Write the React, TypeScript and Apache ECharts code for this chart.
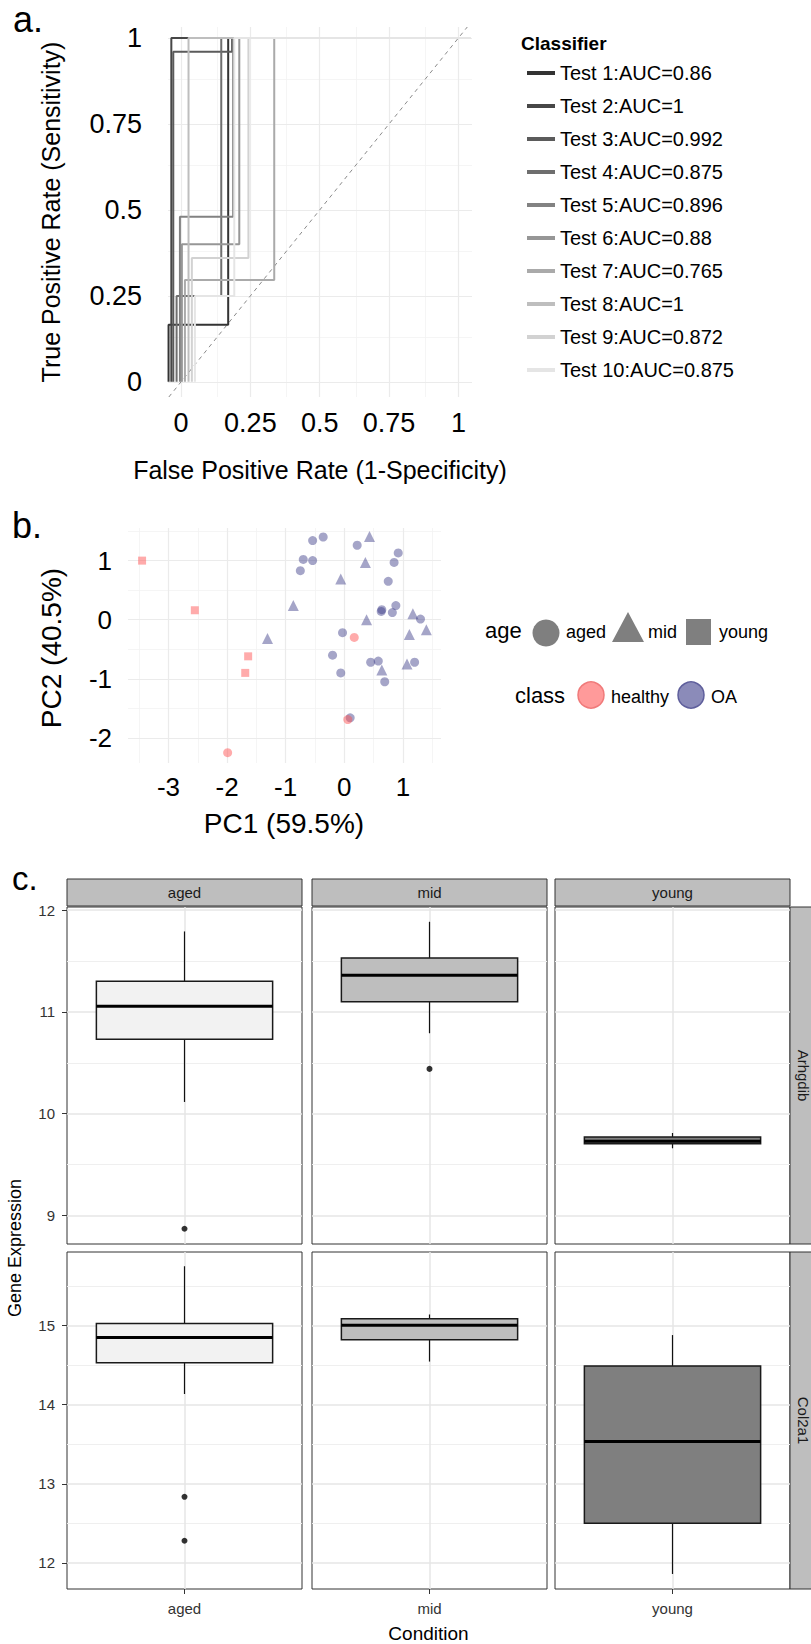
import React, { useEffect, useRef } from "react";
import * as echarts from "echarts";

const FONT = "'Liberation Sans', Arial, Helvetica, sans-serif";

// ---------- Panel a: ROC curves ----------
const testNames = [
  "Test 1:AUC=0.86", "Test 2:AUC=1", "Test 3:AUC=0.992", "Test 4:AUC=0.875", "Test 5:AUC=0.896",
  "Test 6:AUC=0.88", "Test 7:AUC=0.765", "Test 8:AUC=1", "Test 9:AUC=0.872", "Test 10:AUC=0.875",
];
const roc1 = [[-0.045, 0], [-0.045, 0.166], [0.17, 0.166], [0.17, 1], [1.0, 1]];
const roc2 = [[-0.035, 0], [-0.035, 1], [1.005, 1]];
const roc3 = [[-0.028, 0], [-0.028, 0.96], [0.184, 0.96], [0.184, 1], [1.01, 1]];
const roc4 = [[-0.016, 0], [-0.016, 0.25], [0.145, 0.25], [0.145, 1], [1.015, 1]];
const roc5 = [[-0.004, 0], [-0.004, 0.48], [0.188, 0.48], [0.188, 1], [1.02, 1]];
const roc6 = [[0.003, 0], [0.003, 0.4], [0.21, 0.4], [0.21, 1], [1.025, 1]];
const roc7 = [[0.014, 0], [0.014, 0.296], [0.336, 0.296], [0.336, 1], [1.03, 1]];
const roc8 = [[0.027, 0], [0.027, 1], [1.035, 1]];
const roc9 = [[0.039, 0], [0.039, 0.36], [0.243, 0.36], [0.243, 1], [1.04, 1]];
const roc10 = [[0.05, 0], [0.05, 0.25], [0.192, 0.25], [0.192, 1], [1.045, 1]];
const rocCurves = [roc1, roc2, roc3, roc4, roc5, roc6, roc7, roc8, roc9, roc10];
const rocGrays = ["#333333", "#474747", "#5b5b5b", "#6e6e6e", "#828282", "#969696", "#aaaaaa", "#bebebe", "#d2d2d2", "#e5e5e5"];
const diagonal = [-0.044, 1.032];
const rocTicks = [0, 0.25, 0.5, 0.75, 1];
const rocMinor = [0.125, 0.375, 0.625, 0.875];

// ---------- Panel b: PCA ----------
const pcaOAAged = [
  [-0.54, 1.34], [-0.36, 1.4], [-0.7, 1.02], [-0.54, 1.0], [-0.75, 0.83], [0.22, 1.26], [0.92, 1.13],
  [0.85, 0.97], [0.75, 0.65], [0.64, 0.17], [0.63, 0.14], [0.88, 0.24], [0.82, 0.12], [1.3, 0.01],
  [-0.03, -0.22], [-0.2, -0.6], [-0.06, -0.9], [0.45, -0.72], [0.58, -0.7], [0.69, -1.05], [1.2, -0.72],
  [0.1, -1.66],
];
const pcaOAMid = [
  [0.43, 1.41], [0.36, 0.97], [-0.06, 0.69], [-0.87, 0.24], [-1.31, -0.32], [0.38, 0.0], [1.17, 0.1],
  [1.11, -0.25], [1.4, -0.17], [0.64, -0.85], [1.07, -0.75],
];
const pcaHealthyYoung = [[-3.45, 1.0], [-2.55, 0.16], [-1.64, -0.62], [-1.69, -0.9]];
const pcaHealthyAged = [[-1.99, -2.25], [0.17, -0.3], [0.06, -1.69]];
const pcaXTicks = [-3, -2, -1, 0, 1];
const pcaXMinor = [-3.5, -2.5, -1.5, -0.5, 0.5, 1.5];
const pcaYTicks = [-2, -1, 0, 1];
const pcaYMinor = [-1.5, -0.5, 0.5, 1.5];

// ---------- Panel c: boxplots ----------
const conditions = ["aged", "mid", "young"];
const genes = ["Arhgdib", "Col2a1"];
// [lower whisker, Q1, median, Q3, upper whisker]
const arhgdibBoxes = [
  [10.115, 10.73, 11.055, 11.3, 11.79],
  [10.79, 11.1, 11.36, 11.53, 11.885],
  [9.66, 9.705, 9.73, 9.77, 9.81],
];
const col2a1Boxes = [
  [14.135, 14.53, 14.85, 15.025, 15.75],
  [14.545, 14.82, 15.005, 15.085, 15.14],
  [11.86, 12.5, 13.535, 14.49, 14.88],
];
const arhgdibOutliers = [[8.87], [10.44], []];
const col2a1Outliers = [[12.835, 12.28], [], []];
const arhgdibTicks = [9, 10, 11, 12];
const arhgdibMinor = [9.5, 10.5, 11.5];
const col2a1Ticks = [12, 13, 14, 15];
const col2a1Minor = [12.5, 13.5, 14.5, 15.5];
const boxFills = ["#f2f2f2", "#bebebe", "#7f7f7f"];

function gridLineSeries(xi: number, xMajor: any[], xMinor: any[], yMajor: number[], yMinor: number[], majorW: number, minorW: number, majorC: string, minorC: string) {
  const d: any[] = [];
  xMinor.forEach((v) => d.push({ xAxis: v, lineStyle: { color: minorC, width: minorW, type: "solid" } }));
  yMinor.forEach((v) => d.push({ yAxis: v, lineStyle: { color: minorC, width: minorW, type: "solid" } }));
  xMajor.forEach((v) => d.push({ xAxis: v, lineStyle: { color: majorC, width: majorW, type: "solid" } }));
  yMajor.forEach((v) => d.push({ yAxis: v, lineStyle: { color: majorC, width: majorW, type: "solid" } }));
  return {
    type: "line",
    xAxisIndex: xi,
    yAxisIndex: xi,
    data: [],
    z: 1,
    silent: true,
    markLine: {
      z: 1,
      silent: true,
      symbol: ["none", "none"],
      label: { show: false },
      animation: false,
      data: d,
    },
  };
}

function txt(text: string, x: number, y: number, size: number, opts: any = {}) {
  return {
    type: "text",
    x,
    y,
    rotation: opts.rotation || 0,
    style: {
      text,
      fontSize: size,
      fontFamily: FONT,
      fontWeight: opts.bold ? "bold" : "normal",
      fill: opts.color || "#000",
      align: opts.align || "center",
      textAlign: opts.align || "center",
      verticalAlign: "middle",
      textVerticalAlign: "middle",
    },
  };
}

function buildOption() {
  const grids: any[] = [
    { left: 168, top: 27, width: 304, height: 370, outerBoundsMode: "none" },
    { left: 128, top: 528, width: 313, height: 235, outerBoundsMode: "none" },
  ];
  const xAxes: any[] = [
    {
      type: "value", gridIndex: 0, min: -0.047, max: 1.049, offset: 3,
      axisLine: { show: false },
      axisTick: { show: true, customValues: rocTicks, length: 4, lineStyle: { color: "#444", width: 1 } },
      axisLabel: { customValues: rocTicks, fontSize: 27, color: "#000", margin: 9, fontFamily: FONT },
      splitLine: { show: false },
    },
    {
      type: "value", gridIndex: 1, min: -3.69, max: 1.65,
      axisLine: { show: false }, axisTick: { show: false },
      axisLabel: { customValues: pcaXTicks, fontSize: 26, color: "#000", margin: 11, fontFamily: FONT },
      splitLine: { show: false },
    },
  ];
  const yAxes: any[] = [
    {
      type: "value", gridIndex: 0, min: -0.044, max: 1.032, offset: 14,
      axisLine: { show: false },
      axisTick: { show: true, customValues: rocTicks, length: 4, lineStyle: { color: "#444", width: 1 } },
      axisLabel: { customValues: rocTicks, fontSize: 27, color: "#000", margin: 12, fontFamily: FONT },
      splitLine: { show: false },
    },
    {
      type: "value", gridIndex: 1, min: -2.425, max: 1.552,
      axisLine: { show: false }, axisTick: { show: false },
      axisLabel: { customValues: pcaYTicks, fontSize: 26, color: "#000", margin: 16, fontFamily: FONT },
      splitLine: { show: false },
    },
  ];

  const series: any[] = [];
  series.push(gridLineSeries(0, rocTicks, rocMinor, rocTicks, rocMinor, 1.2, 0.8, "#ebebeb", "#f3f3f3"));
  series.push(gridLineSeries(1, pcaXTicks, pcaXMinor, pcaYTicks, pcaYMinor, 1.2, 0.8, "#ebebeb", "#f3f3f3"));

  series.push({
    type: "line", xAxisIndex: 0, yAxisIndex: 0, silent: true, symbol: "none", z: 2,
    data: [[diagonal[0], diagonal[0]], [diagonal[1], diagonal[1]]],
    lineStyle: { color: "#8a8a8a", width: 1, type: [4, 4] },
  });
  rocCurves.forEach((c, i) => {
    series.push({
      type: "line", name: testNames[i], xAxisIndex: 0, yAxisIndex: 0, symbol: "none", z: 3,
      data: c, color: rocGrays[i],
      lineStyle: { color: rocGrays[i], width: 2 },
    });
  });

  const oaColor = "rgba(50,50,130,0.55)";
  const hColor = "rgba(255,80,80,0.6)";
  series.push({ type: "scatter", xAxisIndex: 1, yAxisIndex: 1, symbol: "circle", symbolSize: 9, data: pcaOAAged, itemStyle: { color: oaColor }, z: 3 });
  series.push({ type: "scatter", xAxisIndex: 1, yAxisIndex: 1, symbol: "triangle", symbolSize: 11, data: pcaOAMid, itemStyle: { color: oaColor }, z: 3 });
  series.push({ type: "scatter", xAxisIndex: 1, yAxisIndex: 1, symbol: "rect", symbolSize: 8, data: pcaHealthyYoung, itemStyle: { color: hColor }, z: 3 });
  series.push({ type: "scatter", xAxisIndex: 1, yAxisIndex: 1, symbol: "circle", symbolSize: 9, data: pcaHealthyAged, itemStyle: { color: hColor }, z: 3 });

  const colLefts = [67, 312, 555];
  const rowTops = [907, 1252];
  const colW = 235;
  const rowH = 337;
  const rowMin = [8.72, 11.67];
  const rowMax = [12.03, 15.93];
  const rowTicks = [arhgdibTicks, col2a1Ticks];
  const rowMinor = [arhgdibMinor, col2a1Minor];
  const rowBoxes = [arhgdibBoxes, col2a1Boxes];
  const rowOut = [arhgdibOutliers, col2a1Outliers];

  for (let r = 0; r < 2; r++) {
    for (let c = 0; c < 3; c++) {
      const idx = grids.length;
      grids.push({
        left: colLefts[c], top: rowTops[r], width: colW, height: rowH, show: true,
        borderColor: "#333", borderWidth: 1, backgroundColor: "transparent", outerBoundsMode: "none",
      });
      xAxes.push({
        type: "category", gridIndex: idx, data: [conditions[c]], boundaryGap: true,
        axisLine: { show: false },
        axisTick: { show: r === 1, alignWithLabel: true, length: 5, lineStyle: { color: "#333" } },
        axisLabel: { show: r === 1, fontSize: 15, color: "#333", margin: 12, fontFamily: FONT },
        splitLine: { show: false },
      });
      yAxes.push({
        type: "value", gridIndex: idx, min: rowMin[r], max: rowMax[r],
        axisLine: { show: false },
        axisTick: { show: c === 0, customValues: rowTicks[r], length: 5, lineStyle: { color: "#333" } },
        axisLabel: { show: c === 0, customValues: rowTicks[r], fontSize: 15, color: "#333", margin: 12, fontFamily: FONT },
        splitLine: { show: false },
      });
      series.push(gridLineSeries(idx, [0], [], rowTicks[r], rowMinor[r], 1.5, 1, "#e6e6e6", "#efefef"));
      const b = rowBoxes[r][c];
      const fill = boxFills[c];
      series.push({
        type: "custom", xAxisIndex: idx, yAxisIndex: idx, z: 3,
        data: [[0, b[0], b[1], b[2], b[3], b[4]]],
        encode: { x: 0, y: [1, 2, 3, 4, 5] },
        renderItem: (params: any, api: any) => {
          const x = api.value(0);
          const pMin = api.coord([x, api.value(1)]);
          const pQ1 = api.coord([x, api.value(2)]);
          const pMed = api.coord([x, api.value(3)]);
          const pQ3 = api.coord([x, api.value(4)]);
          const pMax = api.coord([x, api.value(5)]);
          const w = api.size([1, 0])[0] * 0.75;
          const cx = pMed[0];
          return {
            type: "group",
            children: [
              { type: "line", shape: { x1: cx, y1: pMax[1], x2: cx, y2: pQ3[1] }, style: { stroke: "#111", lineWidth: 1.2 } },
              { type: "line", shape: { x1: cx, y1: pQ1[1], x2: cx, y2: pMin[1] }, style: { stroke: "#111", lineWidth: 1.2 } },
              { type: "rect", shape: { x: cx - w / 2, y: pQ3[1], width: w, height: pQ1[1] - pQ3[1] }, style: { fill, stroke: "#1a1a1a", lineWidth: 1.5 } },
              { type: "line", shape: { x1: cx - w / 2, y1: pMed[1], x2: cx + w / 2, y2: pMed[1] }, style: { stroke: "#000", lineWidth: 3 } },
            ],
          };
        },
      });
      const outs = rowOut[r][c];
      if (outs.length) {
        series.push({
          type: "scatter", xAxisIndex: idx, yAxisIndex: idx, symbol: "circle", symbolSize: 6, z: 4,
          data: outs.map((v) => [0, v]), itemStyle: { color: "#000" },
        });
      }
    }
  }

  const graphic: any[] = [
    txt("a.", 13, 19.5, 36, { align: "left" }),
    txt("b.", 12, 525.5, 36, { align: "left" }),
    txt("c.", 12, 878.5, 33, { align: "left" }),
    txt("True Positive Rate (Sensitivity)", 51, 212, 25, { rotation: Math.PI / 2 }),
    txt("False Positive Rate (1-Specificity)", 320, 469.5, 25),
    txt("Classifier", 521, 43, 19, { align: "left", bold: true }),
    txt("PC2 (40.5%)", 51, 648, 28, { rotation: Math.PI / 2 }),
    txt("PC1 (59.5%)", 284, 823.5, 28),
    // panel b legends
    txt("age", 485, 630.7, 22, { align: "left" }),
    { type: "circle", shape: { cx: 546, cy: 633, r: 13.5 }, style: { fill: "#7f7f7f" } },
    txt("aged", 566, 631.7, 18, { align: "left" }),
    { type: "polygon", shape: { points: [[612, 642], [644, 642], [628, 612]] }, style: { fill: "#7f7f7f" } },
    txt("mid", 648, 631.7, 18, { align: "left" }),
    { type: "rect", shape: { x: 686, y: 619, width: 25, height: 26 }, style: { fill: "#7f7f7f" } },
    txt("young", 719, 631.7, 18, { align: "left" }),
    txt("class", 515, 695.6, 22, { align: "left" }),
    { type: "circle", shape: { cx: 591, cy: 695, r: 13 }, style: { fill: "#ff9a9a", stroke: "#f07a7a", lineWidth: 1.5 } },
    txt("healthy", 611, 696.6, 18, { align: "left" }),
    { type: "circle", shape: { cx: 691, cy: 695, r: 13 }, style: { fill: "#8b8bb9", stroke: "#5f5f9c", lineWidth: 1.5 } },
    txt("OA", 711, 696.6, 18, { align: "left" }),
    // panel c titles
    txt("Gene Expression", 15, 1248, 18, { rotation: Math.PI / 2 }),
    txt("Condition", 428.5, 1633, 19),
  ];
  // facet strips
  [67, 312, 555].forEach((x, i) => {
    graphic.push({ type: "rect", shape: { x, y: 879, width: 235, height: 27 }, style: { fill: "#bebebe", stroke: "#333", lineWidth: 1 } });
    graphic.push(txt(conditions[i], x + 117.5, 892.5, 15, { color: "#1a1a1a" }));
  });
  [907, 1252].forEach((y, i) => {
    graphic.push({ type: "rect", shape: { x: 790, y, width: 26, height: 337 }, style: { fill: "#bebebe", stroke: "#333", lineWidth: 1 } });
    graphic.push(txt(genes[i], 803, y + 168.5, 15, { rotation: -Math.PI / 2, color: "#1a1a1a" }));
  });

  return {
    animation: false,
    textStyle: { fontFamily: FONT },
    grid: grids,
    xAxis: xAxes,
    yAxis: yAxes,
    legend: {
      data: testNames,
      orient: "vertical",
      left: 527,
      top: 63,
      padding: 0,
      itemWidth: 28,
      itemHeight: 4,
      icon: "rect",
      itemGap: 13,
      selectedMode: false,
      textStyle: { fontSize: 20, color: "#000", lineHeight: 20, fontFamily: FONT },
    },
    series,
    graphic: { elements: graphic },
  };
}

export default function App() {
  const ref = useRef<HTMLDivElement>(null);
  useEffect(() => {
    document.body.style.margin = "0";
    const chart = echarts.init(ref.current as HTMLDivElement, undefined, { renderer: "svg" });
    chart.setOption(buildOption() as any);
    return () => chart.dispose();
  }, []);
  return <div ref={ref} style={{ position: "absolute", left: 0, top: 0, width: 811, height: 1644, background: "#fff" }} />;
}
